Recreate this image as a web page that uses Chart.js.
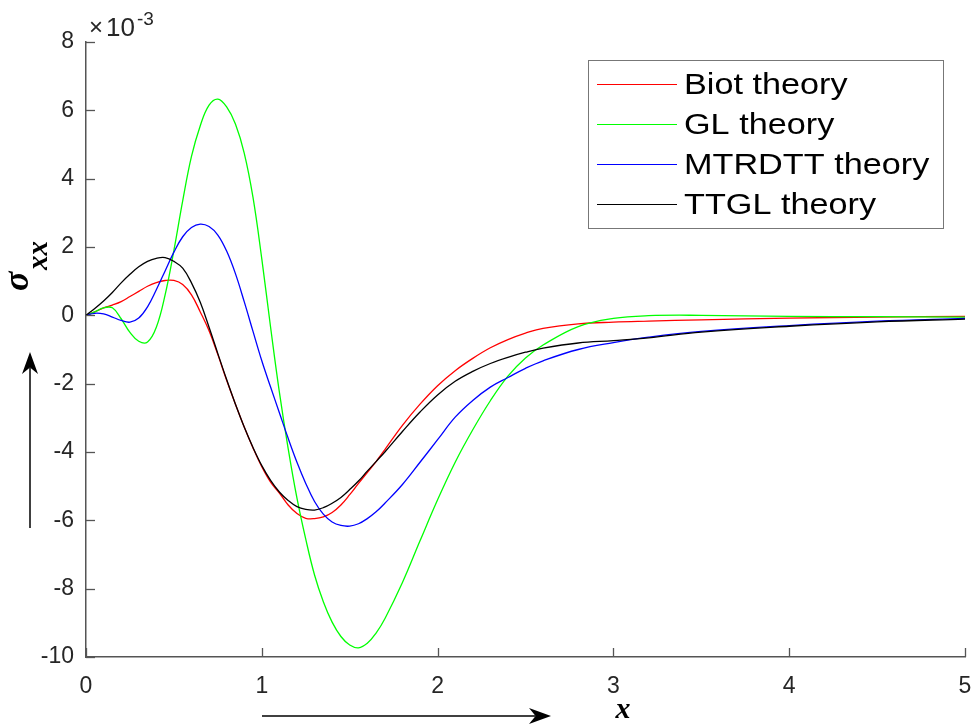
<!DOCTYPE html>
<html lang="en">
<head>
<meta charset="UTF-8">
<title>sigma_xx</title>
<script src="https://cdn.jsdelivr.net/npm/chart.js"></script>
<style>
  body { margin: 0; background: #fff; }
  #chart { display: block; }
</style>
</head>
<body>
<canvas id="chart" width="976" height="726"></canvas>
<script>
// sample positions along x
const xs = [0, 0.05, 0.1, 0.15, 0.2, 0.25, 0.3, 0.35, 0.4, 0.45,
  0.5, 0.55, 0.6, 0.65, 0.7, 0.75, 0.8, 0.85, 0.9, 0.95,
  1.0, 1.05, 1.1, 1.15, 1.2, 1.25, 1.3, 1.35, 1.4, 1.45,
  1.5, 1.55, 1.6, 1.65, 1.7, 1.8, 1.9, 2.0, 2.1, 2.2,
  2.3, 2.4, 2.5, 2.6, 2.8, 3.0, 3.2, 3.5, 4.0, 4.5, 5.0];

// sigma_xx values, in units of 1e-3
const biot = [0, 0.1, 0.22, 0.3, 0.4, 0.55, 0.7, 0.85, 0.96, 1.02,
  1.02, 0.9, 0.6, 0.1, -0.45, -1.15, -1.9, -2.6, -3.27, -3.88,
  -4.43, -4.88, -5.2, -5.55, -5.8, -5.94, -5.95, -5.9, -5.77, -5.55,
  -5.25, -4.92, -4.6, -4.28, -3.93, -3.22, -2.6, -2.06, -1.62, -1.26,
  -0.95, -0.71, -0.52, -0.38, -0.25, -0.2, -0.17, -0.13, -0.08, -0.05, -0.03];

const gl = [0, 0.1, 0.22, 0.22, -0.1, -0.5, -0.76, -0.78, -0.35, 0.6,
  1.9, 3.35, 4.65, 5.55, 6.15, 6.33, 6.1, 5.6, 4.75, 3.45,
  1.65, -0.35, -2.25, -3.9, -5.35, -6.55, -7.6, -8.38, -8.98, -9.4,
  -9.65, -9.73, -9.6, -9.3, -8.88, -7.82, -6.6, -5.4, -4.3, -3.35,
  -2.5, -1.78, -1.25, -0.87, -0.33, -0.09, -0.01, 0.0, -0.03, -0.04, -0.05];

const mtrdtt = [0, 0.06, 0.04, -0.05, -0.15, -0.2, -0.08, 0.25, 0.75, 1.3,
  1.85, 2.3, 2.57, 2.67, 2.6, 2.35, 1.88, 1.22, 0.4, -0.47,
  -1.33, -2.1, -2.85, -3.6, -4.3, -4.92, -5.45, -5.82, -6.05, -6.15,
  -6.17, -6.1, -5.95, -5.75, -5.5, -4.95, -4.3, -3.64, -2.98, -2.49,
  -2.1, -1.82, -1.55, -1.33, -1.0, -0.8, -0.64, -0.47, -0.3, -0.17, -0.09];

const ttgl = [0, 0.2, 0.42, 0.67, 0.95, 1.2, 1.42, 1.58, 1.67, 1.69,
  1.58, 1.38, 0.95, 0.38, -0.35, -1.12, -1.88, -2.6, -3.27, -3.87,
  -4.4, -4.83, -5.17, -5.42, -5.6, -5.68, -5.7, -5.63, -5.5, -5.33,
  -5.1, -4.85, -4.56, -4.28, -4.0, -3.4, -2.83, -2.33, -1.93, -1.64,
  -1.41, -1.23, -1.08, -0.96, -0.81, -0.74, -0.66, -0.49, -0.32, -0.19, -0.11];

const seriesNames = ['Biot theory', 'GL theory', 'MTRDTT theory', 'TTGL theory'];
const seriesColors = ['#ff0000', '#00ff00', '#0000ff', '#000000'];
const seriesValues = [biot, gl, mtrdtt, ttgl];

const xTicks = [0, 1, 2, 3, 4, 5];
const yTicks = [-10, -8, -6, -4, -2, 0, 2, 4, 6, 8];

const axisColor = '#262626';

function arrow(ctx, x1, y1, x2, y2) {
  const a = Math.atan2(y2 - y1, x2 - x1);
  const len = 22, half = 8;
  ctx.beginPath();
  ctx.moveTo(x1, y1);
  ctx.lineTo(x2 - len * 0.7 * Math.cos(a), y2 - len * 0.7 * Math.sin(a));
  ctx.stroke();
  ctx.beginPath();
  ctx.moveTo(x2, y2);
  ctx.lineTo(x2 - len * Math.cos(a) - half * Math.sin(a), y2 - len * Math.sin(a) + half * Math.cos(a));
  ctx.lineTo(x2 - len * 0.7 * Math.cos(a), y2 - len * 0.7 * Math.sin(a));
  ctx.lineTo(x2 - len * Math.cos(a) + half * Math.sin(a), y2 - len * Math.sin(a) - half * Math.cos(a));
  ctx.closePath();
  ctx.fill();
}

// inward ticks, exponent, axis titles, arrows and legend box
const decorations = {
  id: 'decorations',
  afterDraw(chart) {
    const ctx = chart.ctx;
    const area = chart.chartArea;
    const sx = chart.scales.x, sy = chart.scales.y;
    ctx.save();

    // ticks pointing into the plot
    ctx.strokeStyle = '#555';
    ctx.lineWidth = 1.3;
    yTicks.forEach(v => {
      const py = Math.round(sy.getPixelForValue(v)) + 0.5;
      ctx.beginPath(); ctx.moveTo(area.left, py); ctx.lineTo(area.left + 9, py); ctx.stroke();
    });
    xTicks.forEach(v => {
      const px = Math.round(sx.getPixelForValue(v)) + 0.5;
      ctx.beginPath(); ctx.moveTo(px, area.bottom); ctx.lineTo(px, area.bottom - 9); ctx.stroke();
    });

    // x10^-3 multiplier
    ctx.fillStyle = axisColor;
    ctx.textBaseline = 'alphabetic';
    ctx.textAlign = 'left';
    ctx.font = '24px "Liberation Sans"';
    ctx.fillText('\u00d7', 89, 35);
    ctx.font = '26px "Liberation Sans"';
    ctx.fillText('10', 106, 36);
    ctx.font = '19px "Liberation Sans"';
    ctx.fillText('-3', 137, 25);

    // y title: sigma_xx
    ctx.fillStyle = '#000';
    ctx.save();
    ctx.translate(28, 291);
    ctx.rotate(-Math.PI / 2);
    ctx.font = 'bold italic 36px "Liberation Serif"';
    ctx.fillText('\u03c3', 0, 0);
    ctx.font = 'bold italic 29px "Liberation Serif"';
    ctx.fillText('xx', 21, 19);
    ctx.restore();

    // x title
    ctx.font = 'bold italic 30px "Liberation Serif"';
    ctx.textAlign = 'center';
    ctx.fillText('x', 623, 718);

    // arrows
    ctx.strokeStyle = '#000';
    ctx.fillStyle = '#000';
    ctx.lineWidth = 1.5;
    arrow(ctx, 30, 528, 30, 352);
    arrow(ctx, 262, 716, 551, 716);

    // legend
    const bx = 588, by = 60, bw = 355, bh = 168;
    ctx.fillStyle = '#fff';
    ctx.fillRect(bx, by, bw, bh);
    ctx.strokeStyle = '#777';
    ctx.lineWidth = 1;
    ctx.strokeRect(bx + 0.5, by + 0.5, bw, bh);
    ctx.textAlign = 'left';
    ctx.textBaseline = 'middle';
    chart.data.datasets.forEach((ds, i) => {
      const ly = 84 + i * 40;
      ctx.strokeStyle = ds.borderColor;
      ctx.lineWidth = 1.2;
      ctx.beginPath(); ctx.moveTo(597, ly + 0.5); ctx.lineTo(677, ly + 0.5); ctx.stroke();
      ctx.save();
      ctx.translate(684, ly + 2);
      ctx.scale(1.18, 1);
      ctx.fillStyle = '#000';
      ctx.font = '29px "Liberation Sans"';
      ctx.fillText(ds.label, 0, 0);
      ctx.restore();
    });

    ctx.restore();
  }
};

const datasets = seriesNames.map((name, i) => ({
  label: name,
  data: xs.map((x, k) => ({ x: x, y: seriesValues[i][k] })),
  borderColor: seriesColors[i],
  borderWidth: 1.3,
  pointRadius: 0,
  fill: false,
  tension: 0.4,
  order: seriesNames.length - i
}));

new Chart(document.getElementById('chart'), {
  type: 'line',
  data: { datasets: datasets },
  plugins: [decorations],
  options: {
    responsive: false,
    animation: false,
    layout: { autoPadding: false, padding: { top: 42, right: 11, left: 0, bottom: 0 } },
    plugins: {
      legend: { display: false },
      tooltip: { enabled: false }
    },
    scales: {
      x: {
        type: 'linear',
        min: 0,
        max: 5,
        afterBuildTicks: axis => { axis.ticks = xTicks.map(v => ({ value: v })); },
        afterFit: axis => {
          axis.height = 69;
          axis.paddingLeft = 0;
          axis.paddingRight = 0;
        },
        grid: { display: false, drawTicks: false },
        border: { display: true, color: '#555', width: 1.5 },
        ticks: {
          color: axisColor,
          padding: 16,
          maxRotation: 0,
          font: { family: 'Liberation Sans', size: 23 }
        }
      },
      y: {
        type: 'linear',
        min: -10,
        max: 8,
        afterBuildTicks: axis => { axis.ticks = yTicks.map(v => ({ value: v })); },
        afterFit: axis => {
          axis.width = 86;
          axis.paddingTop = 0;
          axis.paddingBottom = 0;
        },
        grid: { display: false, drawTicks: false },
        border: { display: true, color: '#555', width: 1.5 },
        ticks: {
          color: axisColor,
          padding: 12,
          font: { family: 'Liberation Sans', size: 23 }
        }
      }
    }
  }
});
</script>
</body>
</html>
